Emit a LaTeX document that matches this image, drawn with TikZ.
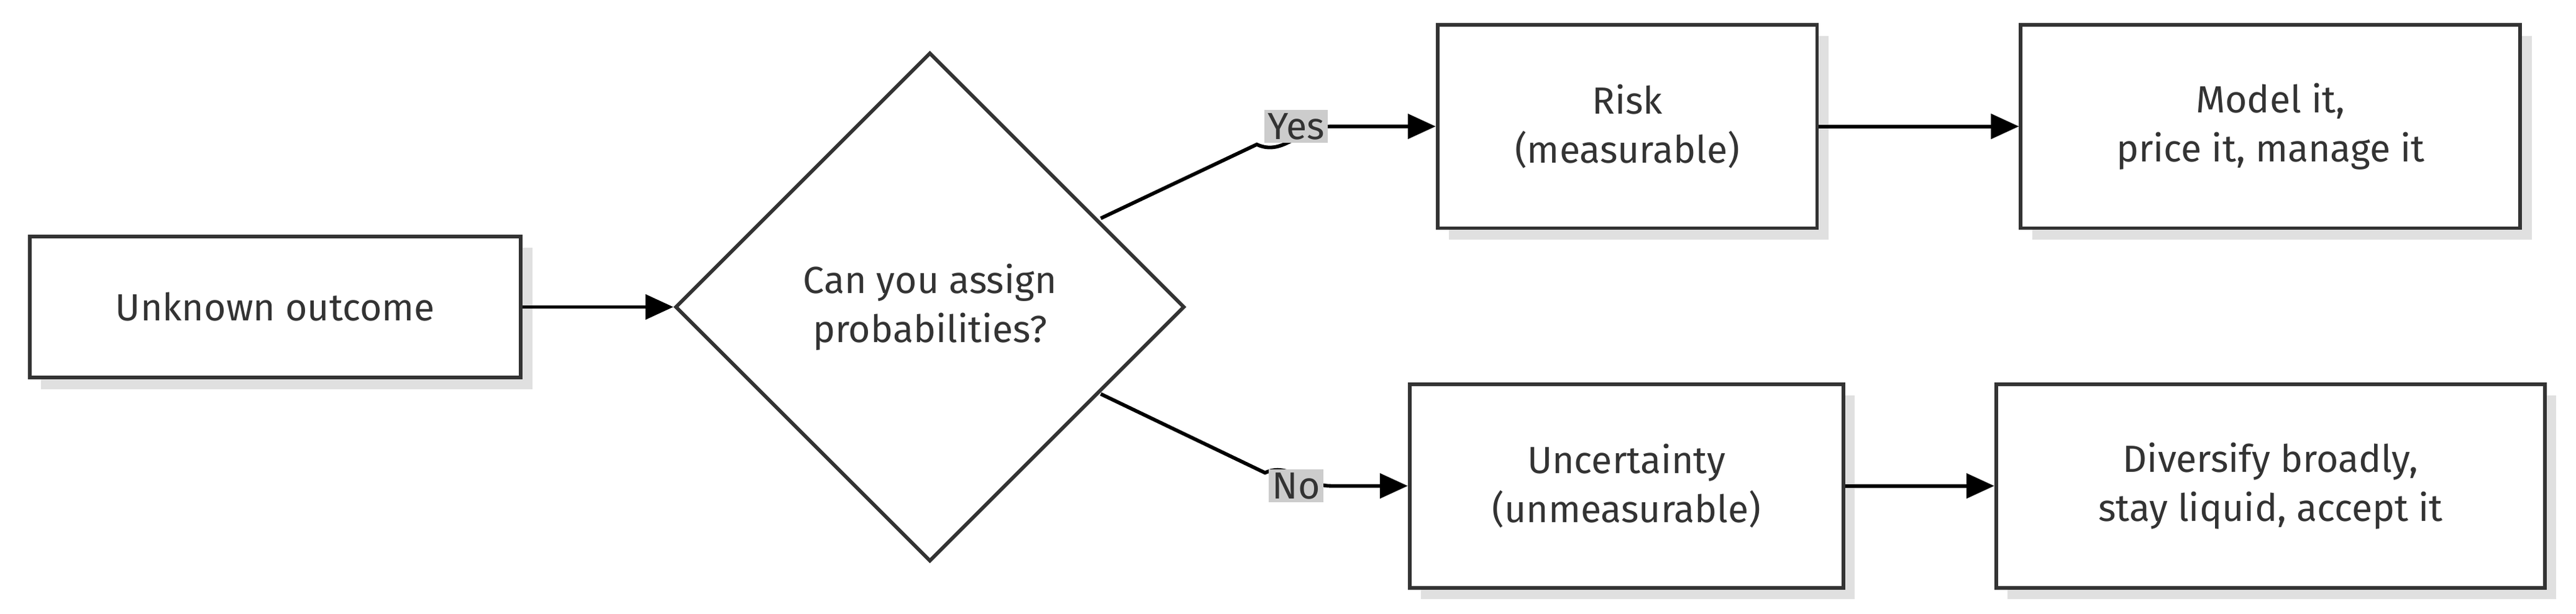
\documentclass[tikz,border=0pt]{standalone}
\usepackage{fontspec}
\setmainfont{Fira Sans}
\usetikzlibrary{shapes.geometric,arrows.meta,shadows}
\definecolor{tc}{HTML}{333333}
\tikzset{
 box/.style={draw=black!80,line width=2.2pt,fill=white,align=center,inner sep=0pt,
   drop shadow={shadow xshift=7pt,shadow yshift=-7pt,fill=black!12,opacity=1}},
 arr/.style={line width=2.2pt,-{Triangle[length=17pt,width=15pt]}},
 lab/.style={fill=black!20,inner sep=2pt}}
\begin{document}
\begin{tikzpicture}[x=1pt,y=-1pt,text=tc,font=\fontsize{23}{30}\selectfont]
\useasboundingbox (0,0) rectangle (1568,374);
\node[box,minimum width=299pt,minimum height=86pt] (u) at (167.5,187) {Unknown outcome};
\node[draw=black!80,line width=2.2pt,fill=white,diamond,aspect=1,minimum width=310pt,minimum height=310pt,inner sep=0pt,align=center] (d) at (566,187) {Can you assign\\probabilities?};
\node[box,minimum width=231pt,minimum height=124pt] (r) at (990.5,77) {Risk\\(measurable)};
\node[box,minimum width=304pt,minimum height=124pt] (m) at (1382,77) {Model it,\\price it, manage it};
\node[box,minimum width=264pt,minimum height=124pt] (c) at (990,296) {Uncertainty\\(unmeasurable)};
\node[box,minimum width=334pt,minimum height=124pt] (v) at (1382,296) {Diversify broadly,\\stay liquid, accept it};
\draw[arr] (u) -- (d);
\coordinate (y0) at (670,133);
\coordinate (n0) at (670,240);
\draw[arr] (y0) -- (765,88) to[out=-25,in=180] (810,77) -- (r.west);
\draw[arr] (n0) -- (770,288) to[out=25,in=180] (810,296) -- (c.west);
\node[lab] (ly) at (789,77) {Yes};
\node[lab] (ln) at (789,296) {No};
\draw[arr] (r) -- (m);
\draw[arr] (c) -- (v);
\end{tikzpicture}
\end{document}
